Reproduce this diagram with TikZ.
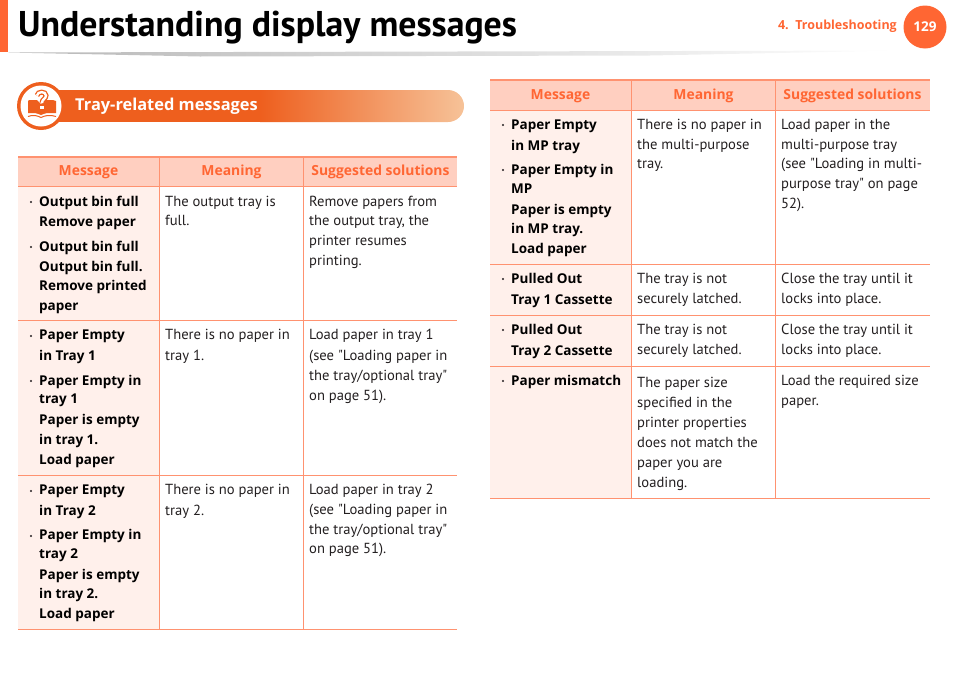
\documentclass[tikz,border=0pt]{standalone}
\usepackage{fontspec}
\setmainfont[Ligatures=TeXOff]{PT Sans}
\newfontfamily\boldfam[BoldFont={Open Sans Bold}]{Open Sans}
\definecolor{orA}{HTML}{FF6633}
\definecolor{band}{HTML}{EE5F1E}
\definecolor{bandend}{HTML}{F6C298}
\definecolor{rule}{HTML}{FF9270}
\definecolor{headfill}{HTML}{FFCFC0}
\definecolor{msgfill}{HTML}{FFF0EB}
\definecolor{txt}{HTML}{231F20}
\newcounter{tln}
\tikzset{
  bodytxt/.style={anchor=base west,inner sep=0pt,text=txt,font=\fontsize{14.6}{16}\selectfont},
  boldtxt/.style={anchor=base west,inner sep=0pt,text=black,font=\boldfam\fontsize{13.5}{16}\selectfont\bfseries},
  headtxt/.style={anchor=base,inner sep=0pt,text=orA,font=\boldfam\fontsize{13.9}{16}\selectfont\bfseries},
  tblrule/.style={draw=rule,line width=0.9pt},
  tbltop/.style={draw=rule,line width=1.6pt},
}
\newcommand{\Tx}[4]{\stepcounter{tln}\node[#1] (t\thetln) at (#2,#3+5) {#4};}
\newcommand{\Bu}[2]{\stepcounter{tln}\node[circle,fill=txt,inner sep=0pt,minimum size=2.4pt] (t\thetln) at (#1,#2) {};}
\begin{document}
\begin{tikzpicture}[x=1pt,y=-1pt]
\useasboundingbox (0,0) rectangle (954,675);
% header
\shade[left color=black!28,middle color=black!48,right color=white] (8,52.5) -- (905,50.5) -- (650,55.5) -- (200,56.5) -- cycle;
\fill[orA] (0,0) rectangle (8,52);
\node[anchor=base west,inner sep=0pt,font=\fontsize{35.8}{40}\selectfont\bfseries] (title) at (18,36) {Understanding display messages};
\node[anchor=base east,inner sep=0pt,text=orA,font=\boldfam\fontsize{12.5}{15}\selectfont\bfseries] (chap) at (897,29) {4.\ \ Troubleshooting};
\node[circle,fill=orA,minimum size=43pt,inner sep=0pt,text=white,font=\boldfam\fontsize{13.5}{16}\selectfont\bfseries] (page) at (925,27) {129};
% section band
\begin{scope}
\clip (40,90) -- (448,90) arc (-90:90:16) -- (40,122) -- cycle;
\fill[band] (40,90) rectangle (260,122);
\shade[left color=band,right color=bandend] (260,90) rectangle (464,122);
\end{scope}
\node[circle,fill=band,minimum size=48pt,inner sep=0pt] (ring) at (41,106) {};
\node[circle,fill=white,minimum size=41pt,inner sep=0pt] (disc) at (41,106) {};
% book icon
\fill[band] (29,100) -- (37,100) -- (41,104) -- (45,100) -- (53,100) -- (56,101) -- (56,113) -- (47,113) .. controls (44,113) and (43,115) .. (41,115) .. controls (39,115) and (38,113) .. (35,113) -- (28,113) -- (28,101) -- cycle;
\draw[band,line width=1pt] (28,116.5) .. controls (33,114.5) and (37,115.5) .. (41,117.5) .. controls (45,115.5) and (50,114.5) .. (56,116.5);
\draw[band,line width=5pt] (37,95.5) .. controls (37.5,91) and (46,91) .. (46,95.5) .. controls (46,99) and (42,99) .. (42,103);
\draw[white,line width=2.4pt] (37,95.5) .. controls (37.5,91) and (46,91) .. (46,95.5) .. controls (46,99) and (42,99) .. (42,103);
\fill[band] (39,104.5) rectangle (45,110);
\fill[white] (40.4,105.8) rectangle (43.6,108.8);
\node[anchor=base west,inner sep=0pt,text=white,font=\boldfam\fontsize{16.4}{18}\selectfont\bfseries] (sec) at (75,110) {Tray-related messages};
% table 1
\fill[headfill] (18,157) rectangle (457,186.5);
\fill[msgfill] (18,186.5) rectangle (159,629.5);
\draw[tbltop] (18,157) -- (457,157);
\draw[tblrule] (18,186.5) -- (457,186.5) (18,320.5) -- (457,320.5) (18,475) -- (457,475) (18,629.5) -- (457,629.5);
\draw[tblrule] (159.5,157) -- (159.5,629.5) (303.5,157) -- (303.5,629.5);
\Tx{headtxt}{88.5}{170}{Message}
\Tx{headtxt}{231.5}{170}{Meaning}
\Tx{headtxt}{380.5}{170}{Suggested solutions}
\Bu{31}{202}\Tx{boldtxt}{39}{201}{Output bin full}
\Tx{boldtxt}{39}{221}{Remove paper}
\Bu{31}{247}\Tx{boldtxt}{39}{246}{Output bin full}
\Tx{boldtxt}{39}{266}{Output bin full.}
\Tx{boldtxt}{39}{285}{Remove printed}
\Tx{boldtxt}{39}{305}{paper}
\Tx{bodytxt}{165}{201}{The output tray is}
\Tx{bodytxt}{165}{220}{full.}
\Tx{bodytxt}{309}{201}{Remove papers from}
\Tx{bodytxt}{309}{220}{the output tray, the}
\Tx{bodytxt}{309}{240}{printer resumes}
\Tx{bodytxt}{309}{260}{printing.}
\Bu{31}{336}\Tx{boldtxt}{39}{334}{Paper Empty}
\Tx{boldtxt}{39}{355}{in Tray 1}
\Bu{31}{381}\Tx{boldtxt}{39}{380}{Paper Empty in}
\Tx{boldtxt}{39}{398}{tray 1}
\Tx{boldtxt}{39}{419}{Paper is empty}
\Tx{boldtxt}{39}{439}{in tray 1.}
\Tx{boldtxt}{39}{459}{Load paper}
\Tx{bodytxt}{165}{334}{There is no paper in}
\Tx{bodytxt}{165}{355}{tray 1.}
\Tx{bodytxt}{309}{334}{Load paper in tray 1}
\Tx{bodytxt}{309}{355}{(see "Loading paper in}
\Tx{bodytxt}{309}{375}{the tray/optional tray"}
\Tx{bodytxt}{309}{395}{on page 51).}
\Bu{31}{491}\Tx{boldtxt}{39}{489}{Paper Empty}
\Tx{boldtxt}{39}{510}{in Tray 2}
\Bu{31}{536}\Tx{boldtxt}{39}{534}{Paper Empty in}
\Tx{boldtxt}{39}{553}{tray 2}
\Tx{boldtxt}{39}{574}{Paper is empty}
\Tx{boldtxt}{39}{593}{in tray 2.}
\Tx{boldtxt}{39}{613}{Load paper}
\Tx{bodytxt}{165}{489}{There is no paper in}
\Tx{bodytxt}{165}{510}{tray 2.}
\Tx{bodytxt}{309}{489}{Load paper in tray 2}
\Tx{bodytxt}{309}{509}{(see "Loading paper in}
\Tx{bodytxt}{309}{529}{the tray/optional tray"}
\Tx{bodytxt}{309}{548}{on page 51).}
% table 2
\fill[headfill] (490,80) rectangle (930,110);
\fill[msgfill] (490,110) rectangle (631,498.5);
\draw[tbltop] (490,80) -- (930,80);
\draw[tblrule] (490,110.5) -- (930,110.5) (490,264.5) -- (930,264.5) (490,315) -- (930,315) (490,366.5) -- (930,366.5) (490,498.5) -- (930,498.5);
\draw[tblrule] (631.5,80) -- (631.5,498.5) (775.5,80) -- (775.5,498.5);
\Tx{headtxt}{560.5}{94}{Message}
\Tx{headtxt}{703.5}{94}{Meaning}
\Tx{headtxt}{852.5}{94}{Suggested solutions}
\Bu{503}{125}\Tx{boldtxt}{511}{124}{Paper Empty}
\Tx{boldtxt}{511}{145}{in MP tray}
\Bu{503}{170}\Tx{boldtxt}{511}{169}{Paper Empty in}
\Tx{boldtxt}{511}{188}{MP}
\Tx{boldtxt}{511}{209}{Paper is empty}
\Tx{boldtxt}{511}{228}{in MP tray.}
\Tx{boldtxt}{511}{248}{Load paper}
\Tx{bodytxt}{637}{124}{There is no paper in}
\Tx{bodytxt}{637}{144}{the multi-purpose}
\Tx{bodytxt}{637}{163}{tray.}
\Tx{bodytxt}{781}{124}{Load paper in the}
\Tx{bodytxt}{781}{144}{multi-purpose tray}
\Tx{bodytxt}{781}{163}{(see "Loading in multi-}
\Tx{bodytxt}{781}{183}{purpose tray" on page}
\Tx{bodytxt}{781}{203}{52).}
\Bu{503}{279}\Tx{boldtxt}{511}{278}{Pulled Out}
\Tx{boldtxt}{511}{299}{Tray 1 Cassette}
\Tx{bodytxt}{637}{278}{The tray is not}
\Tx{bodytxt}{637}{298}{securely latched.}
\Tx{bodytxt}{781}{278}{Close the tray until it}
\Tx{bodytxt}{781}{298}{locks into place.}
\Bu{503}{330}\Tx{boldtxt}{511}{329}{Pulled Out}
\Tx{boldtxt}{511}{350}{Tray 2 Cassette}
\Tx{bodytxt}{637}{329}{The tray is not}
\Tx{bodytxt}{637}{349}{securely latched.}
\Tx{bodytxt}{781}{329}{Close the tray until it}
\Tx{bodytxt}{781}{349}{locks into place.}
\Bu{503}{381}\Tx{boldtxt}{511}{380}{Paper mismatch}
\Tx{bodytxt}{637}{382}{The paper size}
\Tx{bodytxt}{637}{402}{specified in the}
\Tx{bodytxt}{637}{422}{printer properties}
\Tx{bodytxt}{637}{442}{does not match the}
\Tx{bodytxt}{637}{462}{paper you are}
\Tx{bodytxt}{637}{482}{loading.}
\Tx{bodytxt}{781}{380}{Load the required size}
\Tx{bodytxt}{781}{400}{paper.}
\end{tikzpicture}
\end{document}
